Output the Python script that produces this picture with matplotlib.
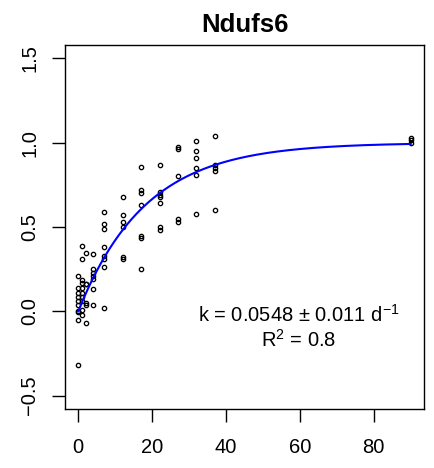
import numpy as np
import matplotlib
matplotlib.use("Agg")
import matplotlib.pyplot as plt

plt.rcParams['font.family'] = ['Liberation Sans', 'DejaVu Sans']
plt.rcParams['mathtext.fontset'] = 'custom'
plt.rcParams['mathtext.rm'] = 'Liberation Sans'
plt.rcParams['mathtext.it'] = 'Liberation Sans:italic'
plt.rcParams['mathtext.bf'] = 'Liberation Sans:bold'

# data: measured fraction by time (days)
times = [0, 1, 2, 4, 7, 12, 17, 22, 27, 32, 37, 90]
values = [
    [-0.32, 0.21, 0.14, 0.11, 0.087, 0.0, -0.006, -0.05, 0.06, 0.04],
    [0.39, 0.31, 0.185, 0.17, 0.14, 0.11, 0.087, 0.06, 0.01, -0.02],
    [0.345, 0.16, 0.16, 0.05, 0.036, -0.067],
    [0.34, 0.25, 0.23, 0.21, 0.19, 0.134, 0.036],
    [0.59, 0.52, 0.49, 0.38, 0.33, 0.31, 0.26, 0.02],
    [0.68, 0.57, 0.53, 0.50, 0.32, 0.31],
    [0.856, 0.72, 0.70, 0.63, 0.445, 0.434, 0.25],
    [0.87, 0.71, 0.69, 0.68, 0.64, 0.50, 0.485],
    [0.975, 0.96, 0.80, 0.545, 0.53],
    [1.01, 0.95, 0.91, 0.85, 0.81, 0.58],
    [1.04, 0.87, 0.85, 0.83, 0.60],
    [1.03, 1.015, 1.0],
]
k_rate = 0.0548
k_err = 0.011
r2 = 0.8
title = "Ndufs6"
xticks = [0, 20, 40, 60, 80]
yticks = [-0.5, 0.0, 0.5, 1.0, 1.5]

xs = np.concatenate([[t] * len(v) for t, v in zip(times, values)])
ys = np.concatenate(values)

fig = plt.figure(figsize=(4.34, 4.68), dpi=100)
ax = fig.add_axes([65/434, 1 - 409/468, (424 - 65)/434, (409 - 45)/468])

ax.plot(xs, ys, linestyle='none', marker='o', markersize=3.1,
        markerfacecolor='none', markeredgecolor='black', markeredgewidth=0.95)

tt = np.linspace(0, max(times), 300)
ax.plot(tt, 1 - np.exp(-k_rate * tt), color='#0000FF', lw=1.5)

ax.set_xlim(-3.6, 93.6)
ax.set_ylim(-0.58, 1.58)
ax.set_xticks(xticks)
ax.set_yticks(yticks)
ax.set_xticklabels([str(v) for v in xticks], fontsize=14.5)
ax.set_yticklabels([f"{v:.1f}".replace("-", "\u2212") for v in yticks],
                   fontsize=14.5, rotation=90, va='center')
ax.tick_params(axis='both', length=9.2, width=1.0, direction='out')
ax.tick_params(axis='x', pad=11.5)
ax.tick_params(axis='y', pad=9.5)
for s in ax.spines.values():
    s.set_linewidth(1.0)

ax.set_title(title, fontsize=18.5, fontweight='bold', pad=9)

ax.text(59.7, -0.02, f"k = {k_rate} \u00b1 {k_err} d$^{{-1}}$", fontsize=14.5,
        ha='center', va='center')
ax.text(59.7, -0.17, f"R$^{{2}}$ = {r2}", fontsize=14.5, ha='center', va='center')

fig.savefig("out.png", dpi=100)
